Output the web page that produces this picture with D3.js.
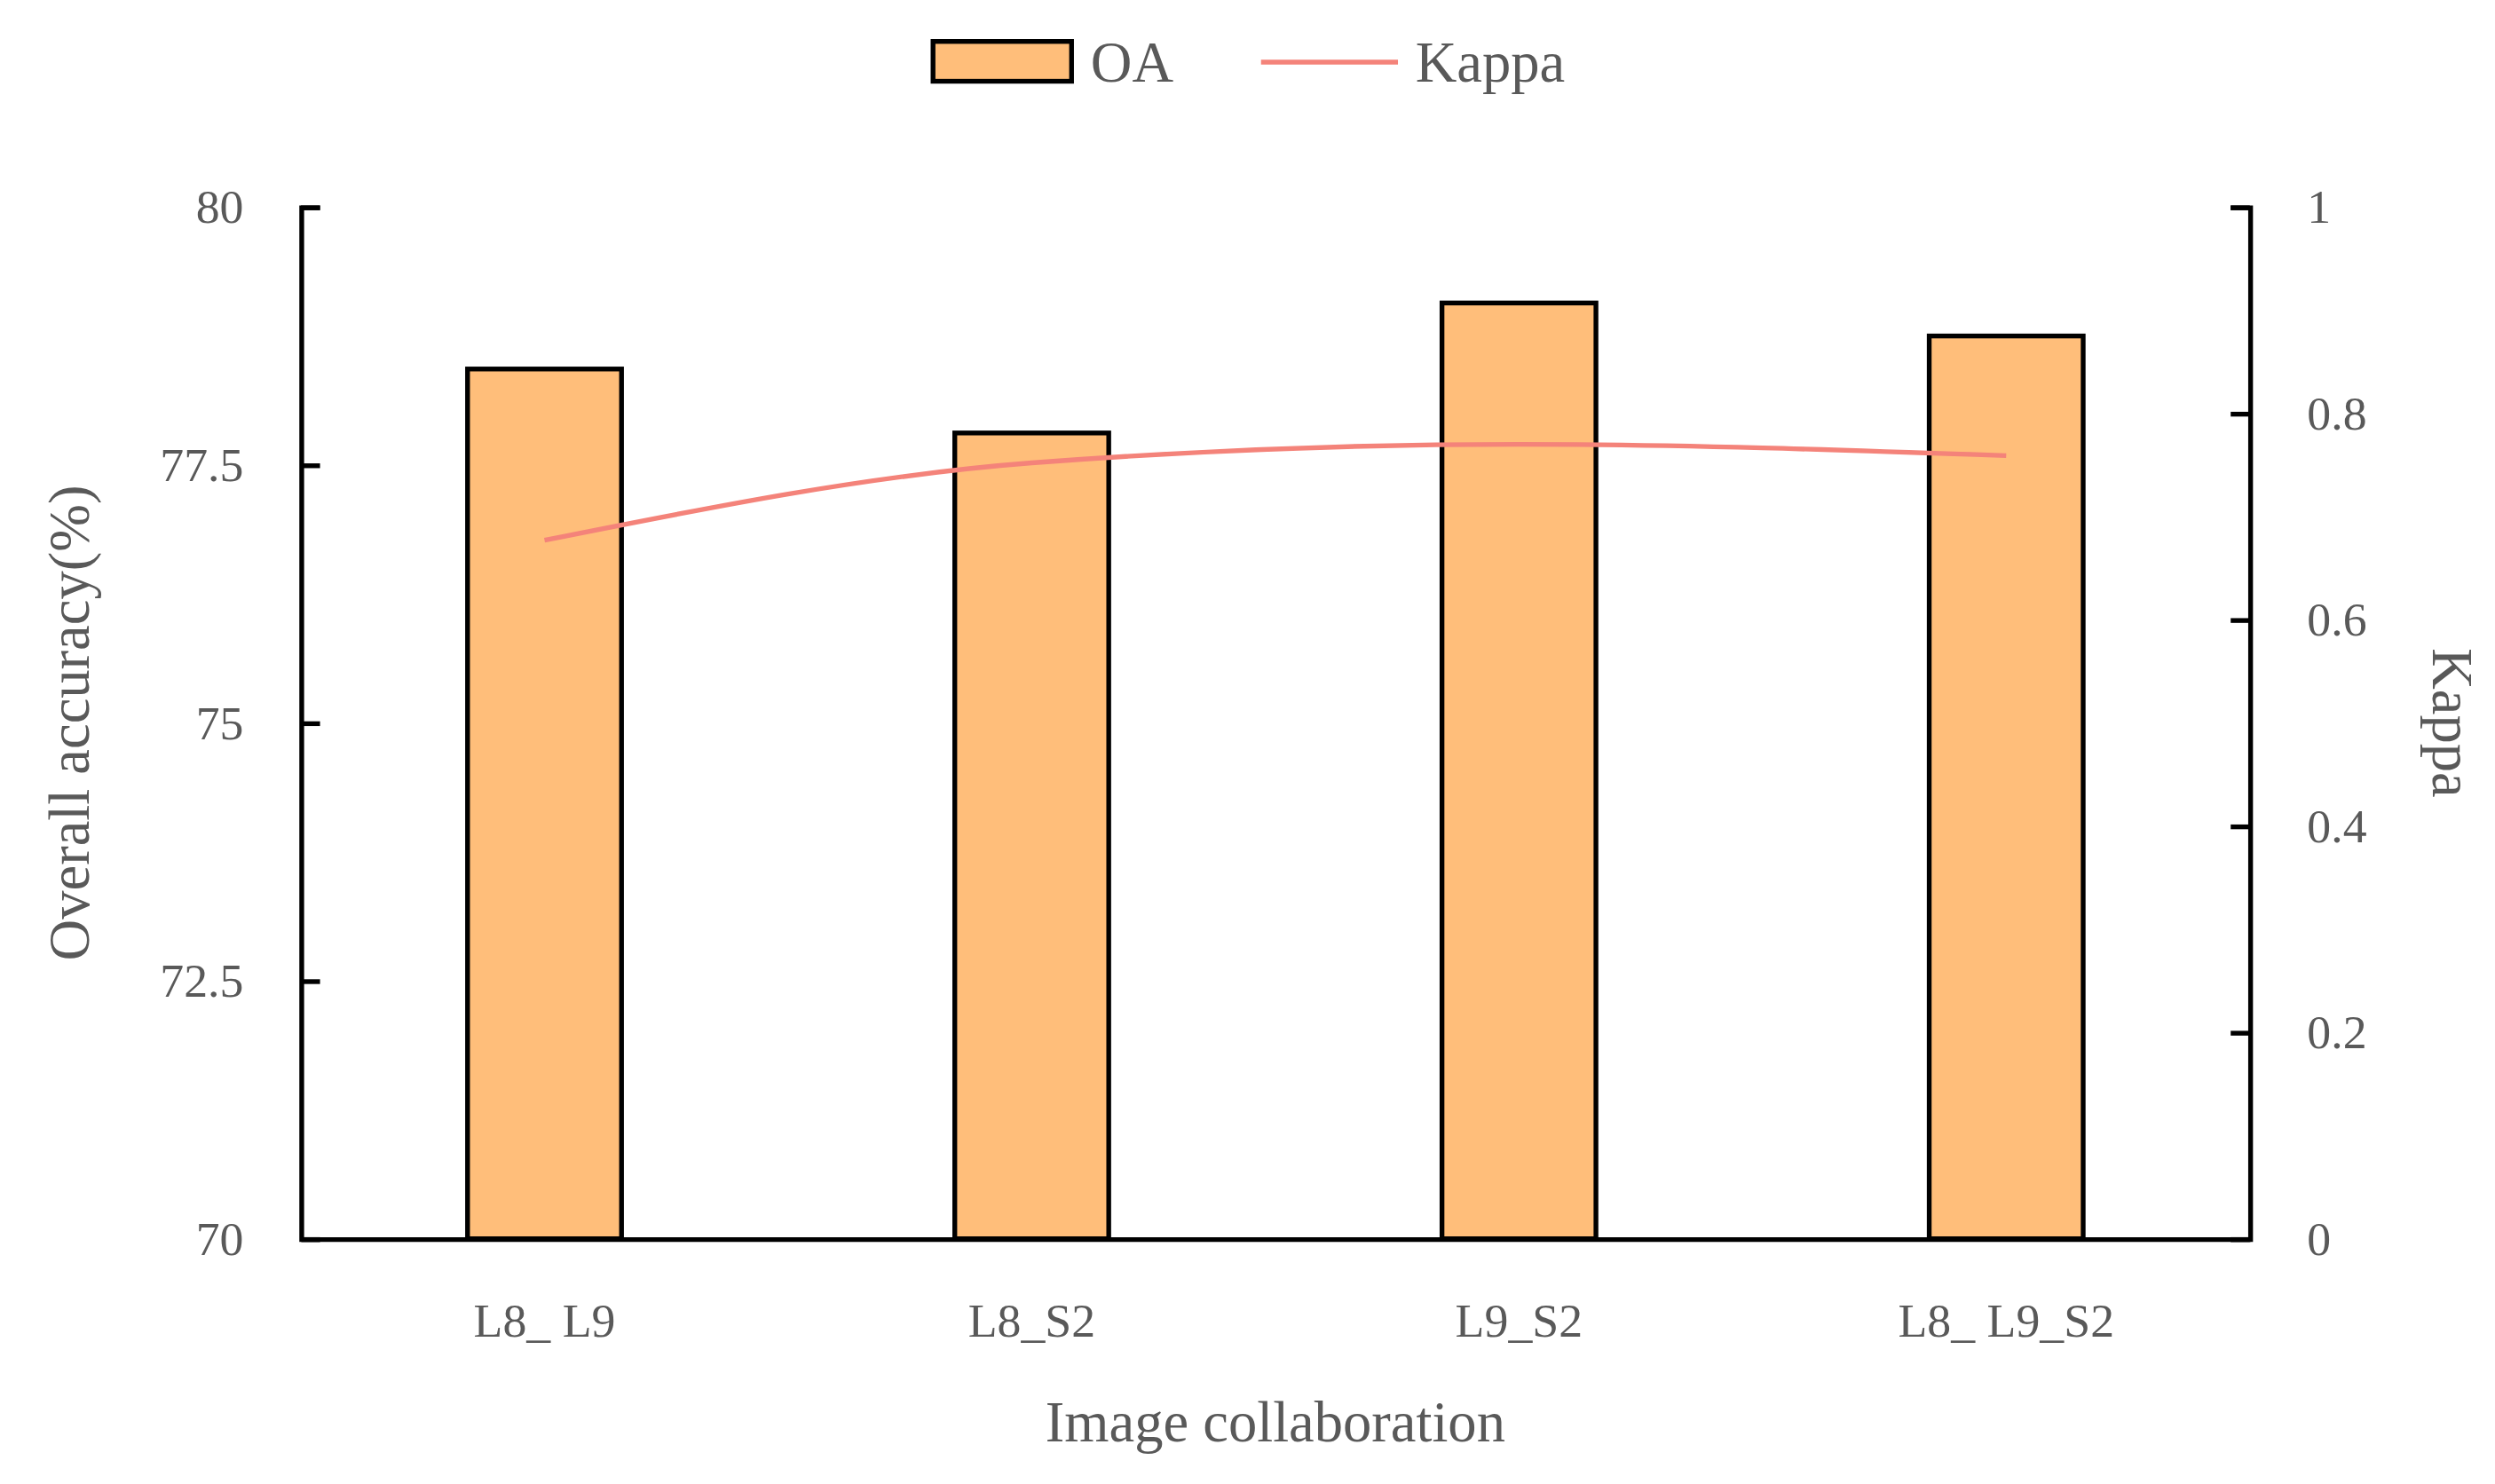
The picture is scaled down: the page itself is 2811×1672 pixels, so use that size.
<!DOCTYPE html>
<html><head><meta charset="utf-8">
<script src="https://cdn.jsdelivr.net/npm/d3@7.9.0/dist/d3.min.js"></script>
<style>body{margin:0;background:#fff}text{font-family:"Liberation Serif",serif;fill:#595959}</style>
</head><body>
<svg id="c" width="2811" height="1672" viewBox="0 0 1567 932"></svg>
<script>
const categories = ['L8_ L9', 'L8_S2', 'L9_S2', 'L8_ L9_S2'];
const oa = [78.43, 77.81, 79.07, 78.75];
const kappa = [0.677, 0.752, 0.770, 0.759];
const oaTicks = [70, 72.5, 75, 77.5, 80];
const kappaTicks = [0, 0.2, 0.4, 0.6, 0.8, 1];

const svg = d3.select('#c');
const plotLeft = 189, plotRight = 1413, plotTop = 130, plotBottom = 778;

let x = d3.scaleBand().domain(categories).range([plotLeft, plotRight]);
let y = d3.scaleLinear().domain([70, 80]).range([plotBottom, plotTop]);
let y2 = d3.scaleLinear().domain([0, 1]).range([plotBottom, plotTop]);
const barW = x.bandwidth() * 0.316;

// bars
svg.selectAll('rect.bar').data(oa).join('rect')
  .attr('x', (d, i) => x(categories[i]) + x.bandwidth() / 2 - barW / 2)
  .attr('y', d => y(d))
  .attr('width', barW)
  .attr('height', d => plotBottom - y(d))
  .attr('fill', '#FFBE7A').attr('stroke', '#000').attr('stroke-width', 3);

// kappa line
let line = d3.line()
  .x((d, i) => x(categories[i]) + x.bandwidth() / 2)
  .y(d => y2(d))
  .curve(d3.curveMonotoneX);
svg.append('path').attr('d', line(kappa))
  .attr('fill', 'none').attr('stroke', '#F4837A').attr('stroke-width', 3);

// axes
function styleAxis(g) {
  g.selectAll('.domain').attr('stroke', '#000').attr('stroke-width', 3);
  g.selectAll('.tick line').attr('stroke', '#000').attr('stroke-width', 3);
  g.selectAll('.tick text').attr('font-size', 30).style('font-family', '"Liberation Serif", serif').attr('fill', '#595959');
}
svg.append('g').attr('transform', `translate(${plotLeft},0)`)
  .call(d3.axisLeft(y).tickValues(oaTicks).tickSizeInner(-12).tickSizeOuter(-12).tickPadding(36).tickFormat(d3.format('')))
  .call(styleAxis);
svg.append('g').attr('transform', `translate(${plotRight},0)`)
  .call(d3.axisRight(y2).tickValues(kappaTicks).tickSizeInner(-12).tickSizeOuter(-12).tickPadding(36).tickFormat(d3.format('')))
  .call(styleAxis);
svg.append('g').attr('transform', `translate(0,${plotBottom})`)
  .call(d3.axisBottom(x).tickSize(0).tickSizeOuter(0).tickPadding(40))
  .call(styleAxis);

// titles
svg.append('text').attr('x', (plotLeft + plotRight) / 2).attr('y', 905).attr('text-anchor', 'middle')
  .attr('font-size', 36).text('Image collaboration');
svg.append('text').attr('transform', `translate(56,${(plotTop + plotBottom) / 2}) rotate(-90)`).attr('text-anchor', 'middle')
  .attr('font-size', 36).text('Overall accuracy(%)');
svg.append('text').attr('transform', `translate(1528,${(plotTop + plotBottom) / 2}) rotate(90)`).attr('text-anchor', 'middle')
  .attr('font-size', 36).text('Kappa');

// legend
svg.append('rect').attr('x', 586).attr('y', 26).attr('width', 87).attr('height', 25)
  .attr('fill', '#FFBE7A').attr('stroke', '#000').attr('stroke-width', 3);
svg.append('text').attr('x', 685).attr('y', 51).attr('font-size', 36).text('OA');
svg.append('line').attr('x1', 792).attr('x2', 878).attr('y1', 39).attr('y2', 39)
  .attr('stroke', '#F4837A').attr('stroke-width', 3);
svg.append('text').attr('x', 889).attr('y', 51).attr('font-size', 36).text('Kappa');
</script>
</body></html>
